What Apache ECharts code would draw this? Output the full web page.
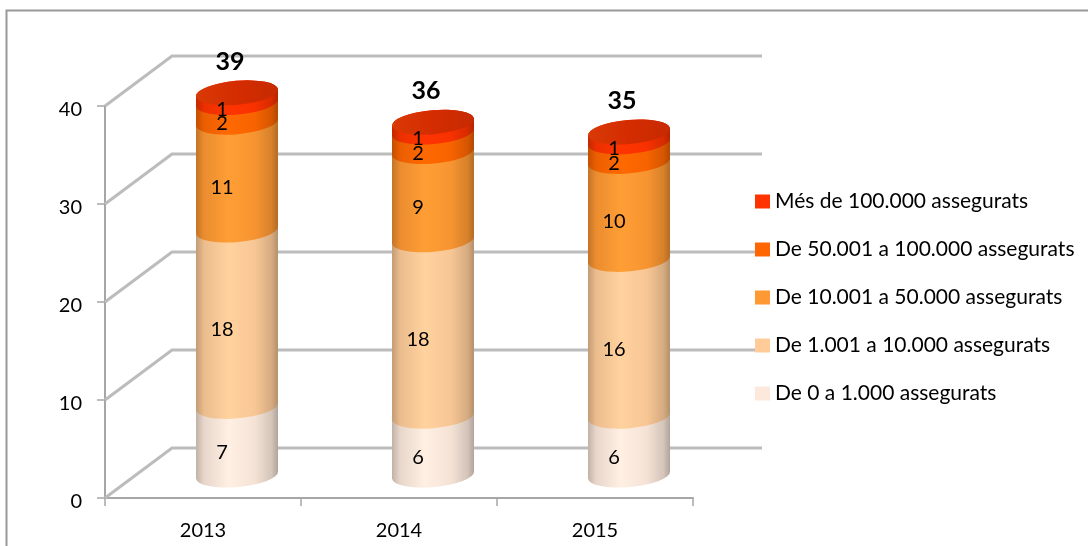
<!DOCTYPE html>
<html>
<head>
<meta charset="utf-8">
<style>html,body{margin:0;padding:0;background:#fff}#main{width:1088px;height:546px}</style>
<script src="https://cdn.jsdelivr.net/npm/echarts@6/dist/echarts.min.js"></script>
</head>
<body>
<div id="main"></div>
<script>
var years = ['2013', '2014', '2015'];
var yTicks = [0, 10, 20, 30, 40];
var totals = [39, 36, 35];
var band0 = [7, 6, 6];
var band1 = [18, 18, 16];
var band2 = [11, 9, 10];
var band3 = [2, 2, 2];
var band4 = [1, 1, 1];
var bandNames = ['De 0 a 1.000 assegurats', 'De 1.001 a 10.000 assegurats', 'De 10.001 a 50.000 assegurats', 'De 50.001 a 100.000 assegurats', 'Més de 100.000 assegurats'];
var bandColors = ['#fce9dc', '#ffcc99', '#ff9933', '#ff6600', '#ff3300'];
var bands = [band0, band1, band2, band3, band4];

var FONT = 'Lato';
var DEPTH_X = 67, DEPTH_Y = 50;  // back wall shift
var COL_X = 34, COL_Y = 23;      // cylinder shift from the front axis
var TILT = 5 * Math.PI / 180;

function shade(hex, k) {
	var n = parseInt(hex.slice(1), 16);
	var r = Math.min(255, Math.round((n >> 16) * k));
	var g = Math.min(255, Math.round(((n >> 8) & 255) * k));
	var b = Math.min(255, Math.round((n & 255) * k));
	return 'rgb(' + r + ',' + g + ',' + b + ')';
}

function sideGradient(hex) {
	return {
		type: 'linear', x: 0, y: 0, x2: 1, y2: 0,
		colorStops: [
			{offset: 0, color: shade(hex, 0.76)},
			{offset: 0.1, color: shade(hex, 0.92)},
			{offset: 0.4, color: shade(hex, 1.03)},
			{offset: 0.72, color: shade(hex, 0.97)},
			{offset: 0.92, color: shade(hex, 0.84)},
			{offset: 1, color: shade(hex, 0.7)}
		]
	};
}

function bandSeries(idx) {
	var data = [];
	for (var i = 0; i < years.length; i++) {
		var start = 0;
		for (var j = 0; j < idx; j++) start += bands[j][i];
		data.push([i, start, start + bands[idx][i], bands[idx][i]]);
	}
	return {
		type: 'custom',
		name: bandNames[idx],
		itemStyle: {color: bandColors[idx]},
		data: data,
		encode: {x: 0, y: [1, 2]},
		z: 3 + idx,
		renderItem: function (params, api) {
			var base = api.coord([api.value(0), api.value(1)]);
			var top = api.coord([api.value(0), api.value(2)]);
			var rx = api.size([1, 0])[0] * 0.21;
			var ry = 12;
			var cx = base[0] + COL_X;
			var y0 = base[1] - COL_Y;
			var y1 = top[1] - COL_Y;
			var dx = rx * Math.cos(TILT), dy = rx * Math.sin(TILT);
			var arc = 'A' + rx + ' ' + ry + ' -5 0 0 ';
			var path = 'M' + (cx - dx) + ' ' + (y1 + dy) +
				'L' + (cx - dx) + ' ' + (y0 + dy) +
				arc + (cx + dx) + ' ' + (y0 - dy) +
				'L' + (cx + dx) + ' ' + (y1 - dy) +
				arc + (cx - dx) + ' ' + (y1 + dy) + 'Z';
			var kids = [{
				type: 'path',
				shape: {pathData: path},
				style: {fill: sideGradient(bandColors[idx])}
			}];
			if (idx === bands.length - 1) {
				kids.push({
					type: 'path',
					shape: {pathData: 'M' + (cx - dx) + ' ' + (y1 + dy) + arc + (cx + dx) + ' ' + (y1 - dy) + arc + (cx - dx) + ' ' + (y1 + dy) + 'Z'},
					style: {fill: {
						type: 'linear', x: 0, y: 0, x2: 1, y2: 0,
						colorStops: [{offset: 0, color: '#d93a06'}, {offset: 0.5, color: '#d42c00'}, {offset: 1, color: '#c72a02'}]
					}}
				});
			}
			kids.push({
				type: 'text',
				x: cx - 15,
				y: (y0 + y1) / 2 + 11.5,
				z2: 10,
				style: {text: String(api.value(3)), fill: '#000', font: '20px ' + FONT, align: 'center', verticalAlign: 'middle'}
			});
			return {type: 'group', children: kids};
		}
	};
}

var wallSeries = {
	type: 'custom',
	silent: true,
	data: yTicks.map(function (v) { return [0, v]; }),
	encode: {y: 1},
	z: 1,
	renderItem: function (params, api) {
		var p = api.coord([0, api.value(1)]);
		var sys = params.coordSys;
		var left = sys.x, right = sys.x + sys.width;
		return {
			type: 'polyline',
			shape: {points: [[left, p[1]], [left + DEPTH_X, p[1] - DEPTH_Y], [right + DEPTH_X + 2, p[1] - DEPTH_Y]]},
			style: {fill: 'none', stroke: '#bcbcbc', lineWidth: 3}
		};
	}
};

var totalSeries = {
	type: 'custom',
	silent: true,
	data: totals.map(function (v, i) { return [i, v]; }),
	encode: {x: 0, y: 1},
	z: 20,
	renderItem: function (params, api) {
		var p = api.coord([api.value(0), api.value(1)]);
		return {
			type: 'text',
			x: p[0] + 27,
			y: p[1] - COL_Y - 31,
			style: {text: String(api.value(1)), fill: '#000', font: 'bold 25px ' + FONT, align: 'center', verticalAlign: 'middle'}
		};
	}
};

var chart = echarts.init(document.getElementById('main'));
chart.setOption({
	animation: false,
	backgroundColor: '#fff',
	graphic: [{
		type: 'polyline',
		silent: true,
		shape: {points: [[6.5, 546], [6.5, 10.5], [1088, 10.5]]},
		style: {fill: 'none', stroke: '#999', lineWidth: 2}
	}],
	grid: {left: 105, right: 395, top: 106, bottom: 48},
	legend: {
		orient: 'vertical',
		left: 750,
		top: 186,
		data: bandNames.slice().reverse(),
		icon: 'rect',
		itemWidth: 15,
		itemHeight: 14,
		itemGap: 27,
		itemStyle: {borderWidth: 0},
		selectedMode: false,
		textStyle: {fontFamily: FONT, fontSize: 21, color: '#000'}
	},
	xAxis: {
		type: 'category',
		data: years,
		axisLine: {lineStyle: {color: '#a6a6a6', width: 2}},
		axisTick: {show: true, length: 8, lineStyle: {color: '#a6a6a6', width: 1.5}},
		axisLabel: {fontFamily: FONT, fontSize: 20, color: '#000', margin: 23}
	},
	yAxis: {
		type: 'value',
		min: 0,
		max: 40,
		interval: 10,
		splitLine: {show: false},
		axisLine: {show: true, lineStyle: {color: '#a6a6a6', width: 2}},
		axisTick: {show: true, length: 8, lineStyle: {color: '#a6a6a6', width: 1.5}},
		axisLabel: {
			color: '#000',
			margin: 23,
			formatter: '{v|{value}}',
			rich: {v: {fontFamily: FONT, fontSize: 20, color: '#000', padding: [7, 0, 0, 0]}}
		}
	},
	series: [wallSeries].concat(bands.map(function (b, i) { return bandSeries(i); }), [totalSeries])
});
</script>
</body>
</html>
